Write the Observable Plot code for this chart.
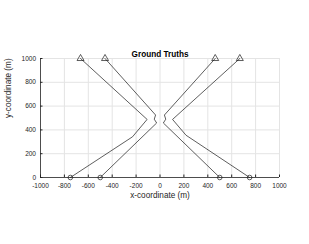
<!DOCTYPE html>
<html>
<head>
<meta charset="utf-8">
<script src="https://cdn.jsdelivr.net/npm/d3@7"></script>
<script src="https://cdn.jsdelivr.net/npm/@observablehq/plot@0.6"></script>
<style>
  html, body { margin: 0; padding: 0; background: #fff; }
  svg { display: block; }
</style>
</head>
<body>
<div id="chart"></div>
<script>
// Trajectories (start at y = 0 with circle, end at y = 1000 with triangle)
const outerLeftX  = [-750, -230, -108, -665];
const outerLeftY  = [0, 342, 488, 1000];
const innerLeftX  = [-500, -28, -48, -37, -460];
const innerLeftY  = [0, 458, 490, 525, 1000];
const innerRightX = [500, 28, 48, 37, 462];
const innerRightY = [0, 458, 490, 525, 1000];
const outerRightX = [750, 218, 105, 668];
const outerRightY = [0, 355, 488, 1000];

const xTicks = [-1000, -800, -600, -400, -200, 0, 200, 400, 600, 800, 1000];
const yTicks = [0, 200, 400, 600, 800, 1000];

const tracks = [
  ["outerLeft", outerLeftX, outerLeftY],
  ["innerLeft", innerLeftX, innerLeftY],
  ["innerRight", innerRightX, innerRightY],
  ["outerRight", outerRightX, outerRightY]
];
const pts = tracks.flatMap(([id, xs, ys]) => xs.map((x, i) => ({id, x, y: ys[i]})));
const starts = tracks.map(([id, xs, ys]) => ({id, x: xs[0], y: ys[0]}));
const ends = tracks.map(([id, xs, ys]) => ({id, x: xs[xs.length - 1], y: ys[ys.length - 1]}));

const ink = "#262626";
const fmt = d => d < 0 ? "-" + Math.abs(d) : String(d);
const plot = Plot.plot({
  width: 309,
  height: 244,
  marginLeft: 40,
  marginRight: 30,
  marginTop: 58,
  marginBottom: 67,
  style: {fontFamily: "'Liberation Sans', Arial, sans-serif", background: "#fff", color: ink},
  x: {domain: [-1000, 1000]},
  y: {domain: [0, 1000]},
  marks: [
    Plot.gridX(xTicks, {stroke: "#e4e4e4", strokeOpacity: 1, strokeWidth: 1}),
    Plot.gridY(yTicks, {stroke: "#e4e4e4", strokeOpacity: 1, strokeWidth: 1}),
    Plot.axisX(xTicks, {tickSize: -2.5, tickPadding: 8, fontSize: 6.5, stroke: ink, fill: ink, label: null, tickFormat: fmt}),
    Plot.axisY(yTicks, {tickSize: -2.5, tickPadding: 7, fontSize: 6.5, stroke: ink, fill: ink, label: null, tickFormat: fmt}),
    Plot.ruleX([-1000], {stroke: ink, strokeWidth: 0.8}),
    Plot.ruleY([0], {stroke: ink, strokeWidth: 0.8}),
    Plot.line(pts, {x: "x", y: "y", z: "id", stroke: "#1a1a1a", strokeWidth: 0.7}),
    Plot.dot(starts, {x: "x", y: "y", r: 2.3, stroke: "#1a1a1a", strokeWidth: 0.7, fill: "none"}),
    Plot.dot(ends, {x: "x", y: "y", r: 2.6, symbol: "triangle", stroke: "#1a1a1a", strokeWidth: 0.7, fill: "none"}),
    Plot.text(["Ground Truths"], {frameAnchor: "top", dy: -7, fontWeight: "bold", fontSize: 8.2, fill: "#000"}),
    Plot.text(["x-coordinate (m)"], {frameAnchor: "bottom", dy: 20, fontSize: 8.2, fill: ink}),
    Plot.text(["y-coordinate (m)"], {frameAnchor: "left", dx: -32, rotate: -90, fontSize: 8.2, fill: ink})
  ]
});
document.getElementById("chart").appendChild(plot);
</script>
</body>
</html>
